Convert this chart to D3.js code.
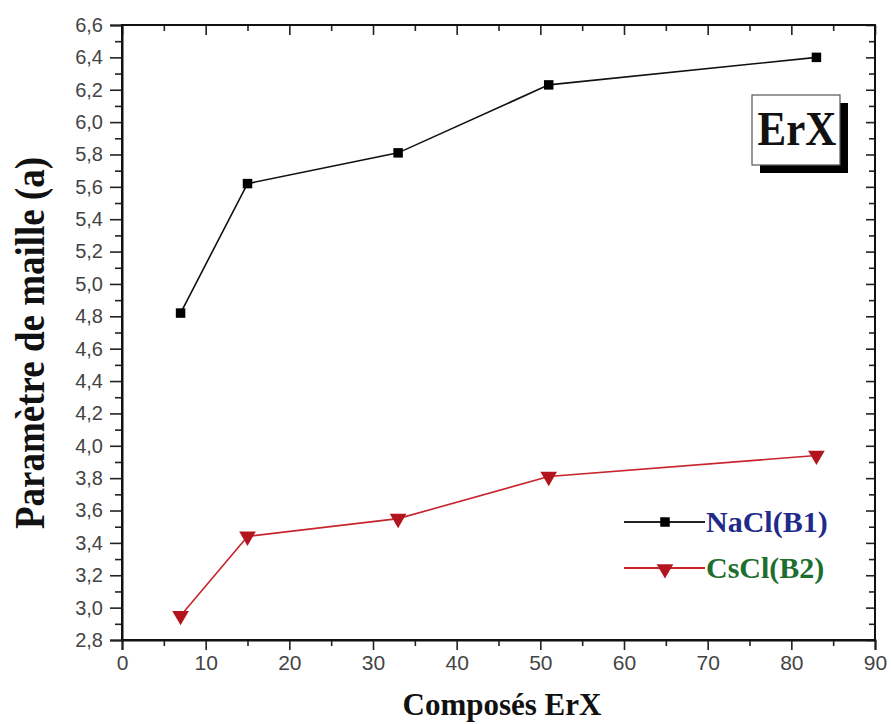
<!DOCTYPE html>
<html><head><meta charset="utf-8">
<script src="https://cdn.jsdelivr.net/npm/d3@7"></script>
<style>body{margin:0;background:#fff}</style>
</head><body>
<svg id="c" width="891" height="724"></svg>
<script>
const compounds = [7, 15, 33, 51, 83];
const naclValues = [4.82, 5.62, 5.81, 6.23, 6.40];
const csclValues = [2.95, 3.44, 3.55, 3.81, 3.94];
const xTickValues = [0, 10, 20, 30, 40, 50, 60, 70, 80, 90];
const yTickValues = [2.8, 3.0, 3.2, 3.4, 3.6, 3.8, 4.0, 4.2, 4.4, 4.6, 4.8, 5.0, 5.2, 5.4, 5.6, 5.8, 6.0, 6.2, 6.4, 6.6];
const seriesNames = ["NaCl(B1)", "CsCl(B2)"];

const svg = d3.select("#c");
const L = 122, R = 875, T = 25, B = 640;
const x = d3.scaleLinear().domain([0, 90]).range([L, R]);
const y = d3.scaleLinear().domain([2.8, 6.6]).range([B, T]);
const fmt = d => d3.format(".1f")(d).replace(".", ",");

const tickFont = "'Liberation Sans', Arial, sans-serif";
const xMinor = d3.range(5, 90, 10);
const yMinor = d3.range(2.9, 6.6, 0.2).map(v => +v.toFixed(1));

// bottom axis
const gB = svg.append("g").attr("transform", `translate(0,${B})`)
  .call(d3.axisBottom(x).tickValues(xTickValues).tickFormat(d3.format("d")).tickSize(10).tickPadding(5));
gB.selectAll(".tick text").style("font-size", "21px");
svg.append("g").attr("transform", `translate(0,${B})`)
  .call(d3.axisBottom(x).tickValues(xMinor).tickFormat("").tickSize(6)).select(".domain").remove();
// top axis (inward)
svg.append("g").attr("transform", `translate(0,${T})`)
  .call(d3.axisBottom(x).tickValues(xTickValues).tickFormat("").tickSize(10)).select(".domain").remove();
svg.append("g").attr("transform", `translate(0,${T})`)
  .call(d3.axisBottom(x).tickValues(xMinor).tickFormat("").tickSize(6)).select(".domain").remove();
// left axis
const gL = svg.append("g").attr("transform", `translate(${L},0)`)
  .call(d3.axisLeft(y).tickValues(yTickValues).tickFormat(fmt).tickSize(12).tickPadding(7));
gL.selectAll(".tick text").style("font-size", "20px");
svg.append("g").attr("transform", `translate(${L},0)`)
  .call(d3.axisLeft(y).tickValues(yMinor).tickFormat("").tickSize(7)).select(".domain").remove();
// right axis (inward)
svg.append("g").attr("transform", `translate(${R},0)`)
  .call(d3.axisLeft(y).tickValues(yTickValues).tickFormat("").tickSize(9)).select(".domain").remove();
svg.append("g").attr("transform", `translate(${R},0)`)
  .call(d3.axisLeft(y).tickValues(yMinor).tickFormat("").tickSize(6)).select(".domain").remove();

svg.selectAll(".tick line").attr("stroke", "#222").attr("stroke-width", 1.6);
svg.selectAll(".tick text").attr("fill", "#444").style("font-family", tickFont);

// frame
svg.append("rect").attr("x", L).attr("y", T).attr("width", R - L).attr("height", B - T)
  .attr("fill", "none").attr("stroke", "#111").attr("stroke-width", 2);
svg.selectAll(".domain").attr("stroke", "#111").attr("stroke-width", 2);

// lines
const line = d3.line().x(d => x(d[0])).y(d => y(d[1]));
const nacl = compounds.map((c, i) => [c, naclValues[i]]);
const cscl = compounds.map((c, i) => [c, csclValues[i]]);
svg.append("path").datum(nacl).attr("d", line).attr("fill", "none").attr("stroke", "#111").attr("stroke-width", 1.6);
svg.append("path").datum(cscl).attr("d", line).attr("fill", "none").attr("stroke", "#c8242c").attr("stroke-width", 1.6);

const sq = d3.symbol().type(d3.symbolSquare).size(90);
const tri = d3.symbol().type(d3.symbolTriangle).size(120);
svg.selectAll(".sq").data(nacl).join("path").attr("d", sq)
  .attr("transform", d => `translate(${x(d[0])},${y(d[1])})`).attr("fill", "#000");
svg.selectAll(".tri").data(cscl).join("path").attr("d", tri)
  .attr("transform", d => `translate(${x(d[0])},${y(d[1])}) rotate(180)`).attr("fill", "#b3151f");

// axis titles
const serif = "'Liberation Serif', 'Times New Roman', serif";
svg.append("text").attr("x", 502).attr("y", 715).attr("text-anchor", "middle")
  .style("font-family", serif).style("font-weight", "bold").style("font-size", "31px").attr("fill", "#111")
  .text("Composés ErX");
svg.append("text").attr("transform", `translate(44,343) scale(1.12,1) rotate(-90)`).attr("text-anchor", "middle")
  .style("font-family", serif).style("font-weight", "bold").style("font-size", "37px").attr("fill", "#111")
  .text("Paramètre de maille (a)");

// legend
const lg = svg.append("g");
const legendItems = [
  { name: seriesNames[0], stroke: "#222", fill: "#000", sym: sq, rot: 0, color: "#1f2a8a", yy: 522 },
  { name: seriesNames[1], stroke: "#c8242c", fill: "#b3151f", sym: tri, rot: 180, color: "#1e6e2e", yy: 568 }
];
legendItems.forEach(it => {
  lg.append("line").attr("x1", 624).attr("x2", 705).attr("y1", it.yy).attr("y2", it.yy)
    .attr("stroke", it.stroke).attr("stroke-width", 1.8);
  lg.append("path").attr("d", it.sym).attr("fill", it.fill)
    .attr("transform", `translate(665,${it.yy + (it.rot ? 1 : 0)}) rotate(${it.rot})`);
  lg.append("text").attr("x", 706).attr("y", it.yy + 10).attr("fill", it.color)
    .style("font-family", serif).style("font-weight", "bold").style("font-size", "30px").text(it.name);
});

// ErX box
svg.append("rect").attr("x", 760).attr("y", 103).attr("width", 88).attr("height", 70).attr("fill", "#000");
svg.append("rect").attr("x", 752).attr("y", 95).attr("width", 88).attr("height", 70)
  .attr("fill", "#fff").attr("stroke", "#555").attr("stroke-width", 1.2);
svg.append("text").attr("transform", "translate(797,145) scale(1,1.15)").attr("text-anchor", "middle")
  .style("font-family", serif).style("font-weight", "bold").style("font-size", "43px").attr("fill", "#111").text("ErX");
</script>
</body></html>
